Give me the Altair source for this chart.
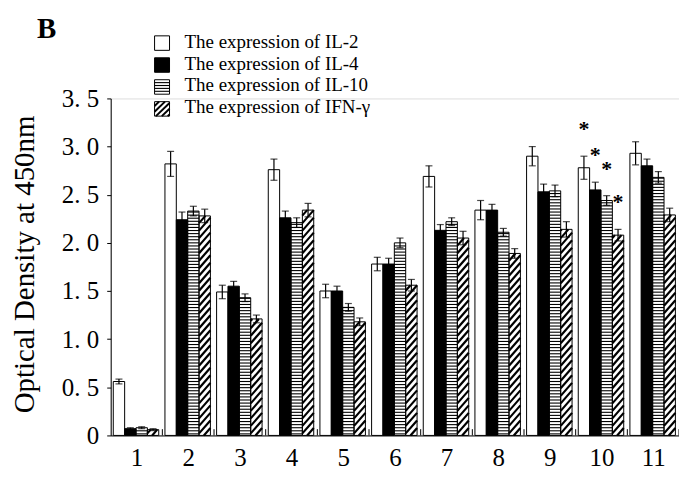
import altair as alt
import pandas as pd

# ---- data ----
groups = [1, 2, 3, 4, 5, 6, 7, 8, 9, 10, 11]
series_keys = ["IL-2", "IL-4", "IL-10", "IFN-γ"]
series_labels = ["The expression of IL-2", "The expression of IL-4",
                 "The expression of IL-10", "The expression of IFN-γ"]

il2 = [0.56, 2.82, 1.49, 2.76, 1.50, 1.78, 2.69, 2.34, 2.90, 2.78, 2.93]
il4 = [0.07, 2.24, 1.55, 2.26, 1.50, 1.78, 2.13, 2.34, 2.53, 2.55, 2.80]
il10 = [0.08, 2.33, 1.43, 2.21, 1.33, 2.00, 2.22, 2.11, 2.54, 2.44, 2.68]
ifn = [0.06, 2.28, 1.21, 2.34, 1.18, 1.56, 2.05, 1.89, 2.14, 2.08, 2.29]

il2_err = [0.025, 0.13, 0.07, 0.11, 0.07, 0.07, 0.11, 0.10, 0.10, 0.12, 0.12]
il4_err = [0.01, 0.08, 0.05, 0.07, 0.05, 0.06, 0.06, 0.06, 0.08, 0.08, 0.07]
il10_err = [0.01, 0.05, 0.04, 0.05, 0.04, 0.05, 0.04, 0.04, 0.06, 0.05, 0.06]
ifn_err = [0.01, 0.07, 0.04, 0.07, 0.04, 0.06, 0.07, 0.05, 0.08, 0.06, 0.07]

starred_groups = [10]
y_ticks = [0, 0.5, 1.0, 1.5, 2.0, 2.5, 3.0, 3.5]
y_title = "Optical Density at 450nm"
panel_label = ["B"]

# ---- long table ----
rows = []
for s, (vals, errs) in enumerate([(il2, il2_err), (il4, il4_err),
                                  (il10, il10_err), (ifn, ifn_err)]):
    for g, v, e in zip(groups, vals, errs):
        rows.append({"group": g, "s": s, "key": series_keys[s], "value": v, "err": e})
df = pd.DataFrame(rows)

SERIF = "Liberation Serif"
FILLS = ["#ffffff", "#000000", "#ffffff", "#ffffff"]
BW = 0.22          # bar width in group units
STEP = 0.032       # horizontal stripe spacing
HP = 0.078         # hatch spacing
HR = 0.135         # hatch rise across one bar

xs = alt.Scale(domain=[0.5, 11.5], nice=False, zero=False)
ys = alt.Scale(domain=[0, 3.5], nice=False, zero=True)

xaxis = alt.Axis(values=groups, format="d", ticks=False, grid=False, title=None,
                 labelAngle=0, labelFont=SERIF, labelFontSize=25, labelPadding=10,
                 labelColor="black", domainColor="black", domainWidth=1)
yaxis = alt.Axis(values=y_ticks, grid=False,
                 labelExpr="datum.value == 0 ? '0' : replace(format(datum.value, '.1f'), '.', '. ')",
                 tickSize=4, tickColor="black", tickWidth=1, labelPadding=8,
                 labelFont=SERIF, labelFontSize=25, labelColor="black",
                 domainColor="black", domainWidth=1,
                 title=y_title, titleFont=SERIF, titleFontSize=29, titleFontWeight="normal",
                 titleColor="black", titleX=-86, titleY=166, titleAngle=270,
                 titleBaseline="middle", titleAlign="center")


def X(f):
    return alt.X(f"{f}:Q", scale=xs, axis=xaxis)


def Y(f):
    return alt.Y(f"{f}:Q", scale=ys, axis=yaxis)


base = (alt.Chart(df)
        .transform_calculate(x0=f"datum.group - 0.45 + datum.s * {BW}", base0="0")
        .transform_calculate(x1=f"datum.x0 + {BW}", xc=f"datum.x0 + {BW / 2}",
                             hi="datum.value + datum.err", lo="datum.value - datum.err"))

fill_enc = alt.Fill("key:N", scale=alt.Scale(domain=series_keys, range=FILLS), legend=None)

bars = base.mark_rect().encode(x=X("x0"), x2="x1:Q", y=Y("value"), y2="base0:Q", fill=fill_enc)

stripes = (base.transform_filter("datum.s == 2")
           .transform_calculate(sy=f"sequence({STEP / 2}, datum.value, {STEP})")
           .transform_flatten(["sy"])
           .mark_rule(color="black", strokeWidth=1.1)
           .encode(x=X("x0"), x2="x1:Q", y=Y("sy")))

hatch = (base.transform_filter("datum.s == 3")
         .transform_calculate(hs=f"sequence({-HR}, datum.value, {HP})")
         .transform_flatten(["hs"])
         .transform_calculate(ya="max(datum.hs, 0)", yb=f"min(datum.hs + {HR}, datum.value)")
         .transform_calculate(xa=f"datum.x0 + (datum.ya - datum.hs) / {HR} * {BW}",
                              xb=f"datum.x0 + (datum.yb - datum.hs) / {HR} * {BW}")
         .transform_filter("datum.yb > datum.ya")
         .mark_rule(color="black", strokeWidth=2.2)
         .encode(x=X("xa"), x2="xb:Q", y=Y("ya"), y2="yb:Q"))

outline = base.mark_rect(fillOpacity=0, stroke="black", strokeWidth=1).encode(
    x=X("x0"), x2="x1:Q", y=Y("value"), y2="base0:Q")

err = base.mark_rule(color="black", strokeWidth=1.2).encode(
    x=X("xc"), y=Y("lo"), y2="hi:Q")
cap_hi = base.mark_tick(orient="horizontal", size=7, thickness=1.2, color="black").encode(
    x=X("xc"), y=Y("hi"))
cap_lo = base.mark_tick(orient="horizontal", size=7, thickness=1.2, color="black").encode(
    x=X("xc"), y=Y("lo"))

stars = (base.transform_filter(f"indexof({starred_groups}, datum.group) >= 0")
         .transform_calculate(sy="datum.hi + 0.31")
         .mark_text(text="*", font=SERIF, fontSize=22, fontWeight="bold",
                    baseline="alphabetic", dy=10, color="black")
         .encode(x=X("xc"), y=Y("sy")))

bticks = (base.transform_filter("datum.s == 0")
          .transform_calculate(bx="datum.group + 0.5", bt="0.065")
          .mark_rule(color="black", strokeWidth=1)
          .encode(x=X("bx"), y=Y("base0"), y2="bt:Q"))

main = alt.layer(bars, stripes, hatch, outline, err, cap_hi, cap_lo, stars, bticks)

# ---- legend (swatches drawn with the same patterns) ----
LH = 0.33   # half swatch height, in legend rows
leg_df = pd.DataFrame({"label": series_labels, "key": series_keys, "row": [0, 1, 2, 3]})
lys = alt.Scale(domain=[0, 3], range=[-55.5, 10.5], nice=False, zero=False)
lxs = alt.Scale(domain=[0, 1], range=[44, 59], nice=False, zero=False)


def LY(f):
    return alt.Y(f"{f}:Q", scale=lys, axis=None)


def LX(f):
    return alt.X(f"{f}:Q", scale=lxs, axis=None)


lbase = (alt.Chart(leg_df)
         .transform_calculate(lx0="0", lx1="1",
                              ly0=f"datum.row - {LH}", ly1=f"datum.row + {LH}"))

sw = lbase.mark_rect().encode(x=LX("lx0"), x2="lx1:Q", y=LY("ly0"), y2="ly1:Q", fill=fill_enc)
sw_stripes = (lbase.transform_filter("datum.row == 2")
              .transform_calculate(sy=f"sequence(datum.ly0 + {2 * LH / 5}, datum.ly1 - 0.01, {2 * LH / 5})")
              .transform_flatten(["sy"])
              .mark_rule(color="black", strokeWidth=1.1)
              .encode(x=LX("lx0"), x2="lx1:Q", y=LY("sy")))
LR = 2 * LH
LP = 0.26
sw_hatch = (lbase.transform_filter("datum.row == 3")
            .transform_calculate(hs=f"sequence({-LR + 0.08}, {LR}, {LP})")
            .transform_flatten(["hs"])
            .transform_calculate(ya="max(datum.hs, 0)", yb=f"min(datum.hs + {LR}, {LR})")
            .transform_calculate(xa=f"(datum.ya - datum.hs) / {LR}",
                                 xb=f"(datum.yb - datum.hs) / {LR}",
                                 yya="datum.ly1 - datum.ya", yyb="datum.ly1 - datum.yb")
            .transform_filter("datum.yb > datum.ya")
            .mark_rule(color="black", strokeWidth=2)
            .encode(x=LX("xa"), x2="xb:Q", y=LY("yya"), y2="yyb:Q"))
sw_out = lbase.mark_rect(fillOpacity=0, stroke="black", strokeWidth=1).encode(
    x=LX("lx0"), x2="lx1:Q", y=LY("ly0"), y2="ly1:Q")
leg_text = lbase.mark_text(align="left", baseline="alphabetic", dy=4.5,
                           font=SERIF, fontSize=19, color="black").encode(
    x=alt.value(74), y=LY("row"), text="label:N")
panel = alt.Chart(pd.DataFrame({"t": panel_label})).mark_text(
    align="left", baseline="alphabetic", font=SERIF, fontSize=29, fontWeight="bold",
    color="black").encode(x=alt.value(-74), y=alt.value(-61), text="t:N")

legend = alt.layer(sw, sw_stripes, sw_hatch, sw_out, leg_text, panel)

chart = (alt.layer(main, legend)
         .resolve_scale(x="independent", y="independent")
         .properties(width=570, height=338, autosize="none",
                     padding={"left": 103, "top": 90, "right": 0, "bottom": 40})
         .configure_view(stroke=None)
         .configure(background="white"))

chart.save("out.html", embed_options={"renderer": "svg", "actions": False})
